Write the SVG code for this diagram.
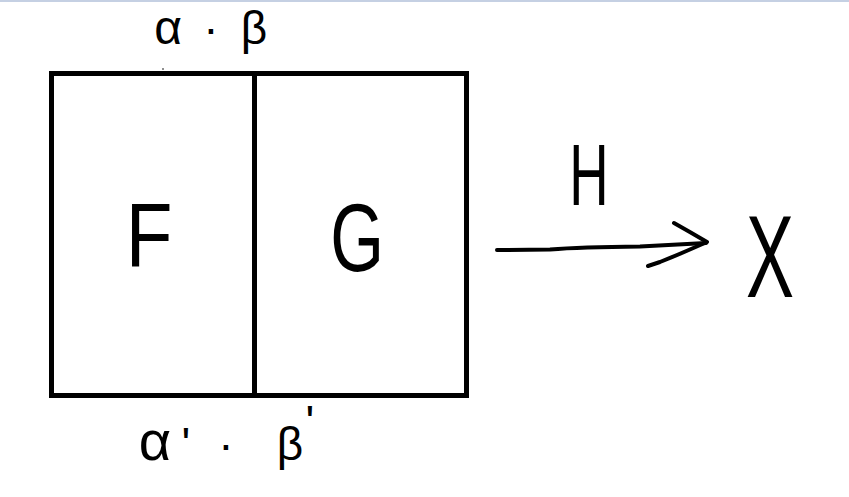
<svg xmlns="http://www.w3.org/2000/svg" width="849" height="497" viewBox="0 0 849 497">
<style>
.box{fill:none;stroke:#000;stroke-width:5;stroke-linejoin:miter}
.lbl{font-family:"Liberation Sans","DejaVu Sans",sans-serif;fill:#000;text-anchor:middle}
.big{font-size:90px}
.small{font-size:46px}
.wire{fill:none;stroke:#000;stroke-width:4;stroke-linecap:round;stroke-linejoin:round}
</style>
<rect x="0" y="0" width="849" height="497" fill="#fff"/>
<rect x="0" y="0" width="849" height="2" fill="#c5d0e3"/>
<g id="node-F">
<rect class="box" x="51.5" y="73.5" width="203" height="322"/>
<text class="lbl big" transform="translate(149,266) scale(0.85,1)">F</text>
</g>
<g id="node-G">
<rect class="box" x="254.5" y="73.5" width="212" height="322"/>
<text class="lbl" font-size="96" transform="translate(357,271) scale(0.72,1)">G</text>
</g>
<g id="node-X">
<text class="lbl" font-size="116" transform="translate(770,297) scale(0.62,1)">X</text>
</g>
<g id="labels">
<text class="lbl small" y="44"><tspan x="168" font-size="48">α</tspan><tspan x="211">·</tspan><tspan x="254">β</tspan></text>
<text class="lbl small" y="460"><tspan x="155" font-size="56">α</tspan><tspan x="186">'</tspan><tspan x="226">·</tspan><tspan x="290">β</tspan><tspan x="310" dy="-22">'</tspan></text>
<circle cx="163" cy="69" r="0.8" fill="#000"/>
</g>
<g id="connectors">
<path class="wire" d="M497,250 L550,249.5 Q580,247 640,246.5 L706,243"/>
<path class="wire" d="M674,223 Q690,232 707,242 Q680,254 660,262 L648,266"/>
<text class="lbl" font-size="88" transform="translate(589,205) scale(0.62,1)">H</text>
</g>
</svg>
